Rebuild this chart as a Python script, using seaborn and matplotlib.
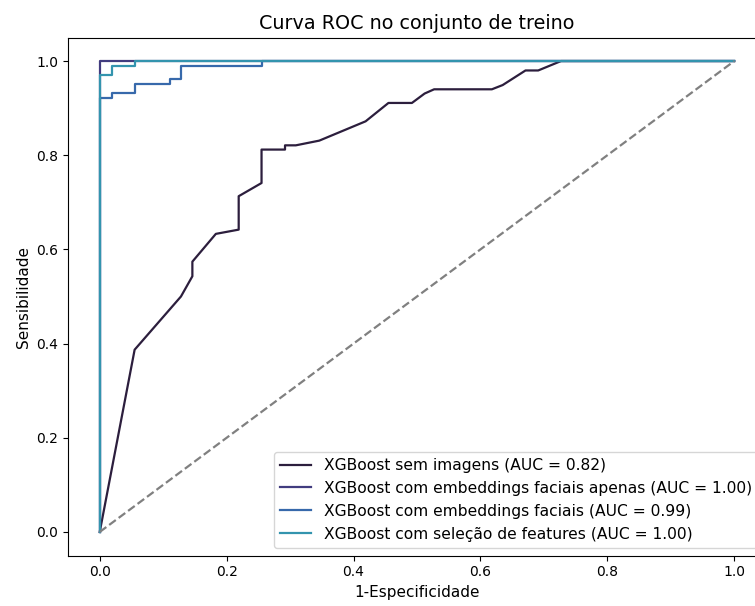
import matplotlib
matplotlib.use("Agg")
import matplotlib.pyplot as plt
import seaborn as sns
import pandas as pd

# ROC curve points
fpr_sem = [0.0, 0.055, 0.128, 0.146, 0.146, 0.183, 0.219, 0.219, 0.255, 0.255, 0.292, 0.292, 0.309,
           0.346, 0.419, 0.455, 0.492, 0.512, 0.527, 0.618, 0.635, 0.671, 0.691, 0.727, 1.0]
tpr_sem = [0.0, 0.387, 0.50, 0.543, 0.574, 0.633, 0.642, 0.713, 0.741, 0.812, 0.812, 0.821, 0.821,
           0.831, 0.872, 0.911, 0.911, 0.931, 0.940, 0.940, 0.949, 0.980, 0.980, 1.0, 1.0]

fpr_apenas = [0.0, 0.0, 1.0]
tpr_apenas = [0.0, 1.0, 1.0]

fpr_emb = [0.0, 0.0, 0.02, 0.02, 0.055, 0.055, 0.11, 0.11, 0.128, 0.128, 0.255, 0.255, 1.0]
tpr_emb = [0.0, 0.922, 0.922, 0.932, 0.932, 0.951, 0.951, 0.961, 0.961, 0.99, 0.99, 1.0, 1.0]

fpr_sel = [0.0, 0.0, 0.02, 0.02, 0.055, 0.055, 1.0]
tpr_sel = [0.0, 0.971, 0.971, 0.99, 0.99, 1.0, 1.0]

modelos = ["XGBoost sem imagens (AUC = 0.82)",
           "XGBoost com embeddings faciais apenas (AUC = 1.00)",
           "XGBoost com embeddings faciais (AUC = 0.99)",
           "XGBoost com seleção de features (AUC = 1.00)"]
cores = ["#2c1e3d", "#413c7f", "#3769ab", "#3394ae"]

curvas = [(fpr_sem, tpr_sem), (fpr_apenas, tpr_apenas), (fpr_emb, tpr_emb), (fpr_sel, tpr_sel)]
rows = []
for nome, (f, t) in zip(modelos, curvas):
    for a, b in zip(f, t):
        rows.append({"modelo": nome, "fpr": a, "tpr": b})
df = pd.DataFrame(rows)

fig = plt.figure(figsize=(7.55, 6.06), dpi=100)
ax = fig.add_axes([68 / 755, 1 - 555.5 / 606, (766 - 68) / 755, (555.5 - 37.5) / 606])

sns.lineplot(data=df, x="fpr", y="tpr", hue="modelo", hue_order=modelos, palette=cores,
             sort=False, estimator=None, units="modelo", ax=ax, linewidth=1.6)
ax.plot([0, 1], [0, 1], linestyle="--", color="gray", linewidth=1.6)

ax.set_xlim(-0.05, 1.05)
ax.set_ylim(-0.05, 1.05)
ax.set_xticks([0, 0.2, 0.4, 0.6, 0.8, 1.0])
ax.set_yticks([0, 0.2, 0.4, 0.6, 0.8, 1.0])
ax.set_xlabel("1-Especificidade", fontsize=11)
ax.set_ylabel("Sensibilidade", fontsize=11)
ax.set_title("Curva ROC no conjunto de treino", fontsize=13.8)
ax.legend(loc="lower right", title=None, fontsize=11.2)

fig.savefig("out.png", dpi=100)
